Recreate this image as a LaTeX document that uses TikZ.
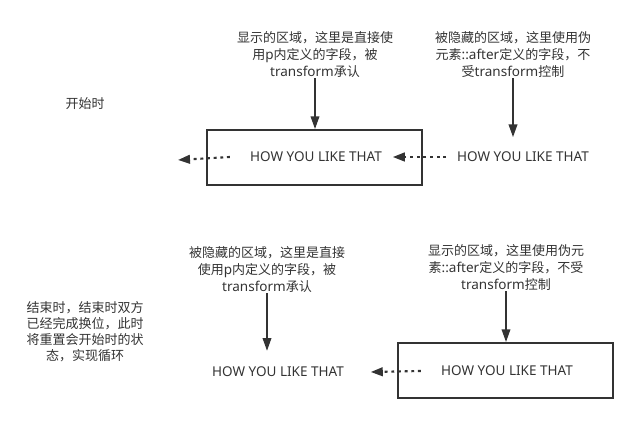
\documentclass[tikz,border=0pt]{standalone}
\usepackage{fontspec}
\usepackage{tikz}
\usetikzlibrary{arrows.meta}
\newfontfamily\cjk{Noto Sans CJK SC}
\newfontfamily\latfont[Scale=1.04]{Noto Sans}
\newcommand{\lat}[1]{{\latfont #1}}
\definecolor{ink}{RGB}{51,51,51}

\begin{document}
\begin{tikzpicture}[x=0.75pt,y=-0.75pt]
\tikzstyle{every node}+=[inner sep=0pt, text=ink, font=\cjk\fontsize{9.75}{12.75}\selectfont]
\tikzstyle{note}=[align=center]
\tikzstyle{frame}=[draw=ink, line width=1.5pt, minimum width=161.25pt, minimum height=41.25pt]
\tikzstyle{downarr}=[draw=ink, line width=1.1pt, -{Triangle[length=9.5pt,width=6.5pt]}]
\tikzstyle{dotarr}=[draw=ink, line width=1.6pt, dash pattern=on 2.2pt off 2.8pt, -{Triangle[length=9pt,width=6.5pt]}]
\useasboundingbox (0,0) rectangle (641,423);
% start state
\node (startlbl) at (85,104) {开始时};
\node [frame] (boxA) at (314.5,157.5) {};
\node (howA) at (316,157) {\lat{HOW YOU LIKE THAT}};
\node (howB) at (523,157) {\lat{HOW YOU LIKE THAT}};
\node [note] (noteA) at (315,55) {显示的区域，这里是直接使\\用\lat{p}内定义的字段，被\\\lat{transform}承认};
\node [note] (noteB) at (513,55) {被隐藏的区域，这里使用伪\\元素\lat{::after}定义的字段，不\\受\lat{transform}控制};
\coordinate (outA) at (178,160);
\draw [downarr] (noteA.south) -- (noteA.south |- boxA.north);
\draw [downarr] (noteB.south) -- ([yshift=11pt]noteB.south |- howB.north);
\draw [dotarr] ([xshift=-8pt]howB.west) -- ([xshift=8pt]howA.east);
\draw [dotarr] ([xshift=-15pt]howA.west) -- (outA);
% end state
\node [note, font=\cjk\fontsize{9.75}{12}\selectfont] (endlbl) at (85,332) {结束时，结束时双方\\已经完成换位，此时\\将重置会开始时的状\\态，实现循环};
\node [frame] (boxD) at (505,370.5) {};
\node (howC) at (278,372) {\lat{HOW YOU LIKE THAT}};
\node (howD) at (507,371) {\lat{HOW YOU LIKE THAT}};
\node [note] (noteC) at (267,270) {被隐藏的区域，这里是直接\\使用\lat{p}内定义的字段，被\\\lat{transform}承认};
\node [note] (noteD) at (506,268) {显示的区域，这里使用伪元\\素\lat{::after}定义的字段，不受\\\lat{transform}控制};
\draw [downarr] (noteC.south) -- ([yshift=12pt]noteC.south |- howC.north);
\draw [downarr] (noteD.south) -- (noteD.south |- boxD.north);
\draw [dotarr] ([xshift=-15pt]howD.west) -- ([xshift=20pt]howC.east);
\end{tikzpicture}
\end{document}
